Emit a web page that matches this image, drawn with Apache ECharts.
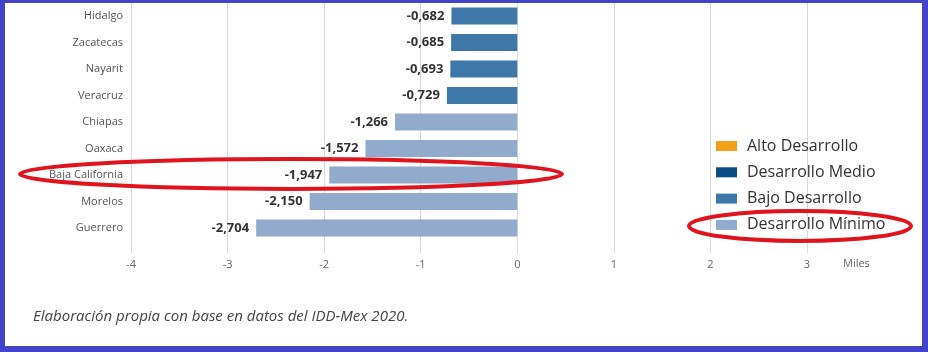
<!DOCTYPE html>
<html>
<head>
<meta charset="utf-8">
<script src="https://cdn.jsdelivr.net/npm/echarts@6/dist/echarts.min.js"></script>
<style>
  html, body { margin: 0; padding: 0; background: #fff; }
  #chart { position: absolute; left: 0; top: 0; width: 928px; height: 352px; }
  #frame { position: absolute; left: 0; top: 0; width: 928px; height: 352px; box-sizing: border-box;
           border-left: 5px solid #4343c9; border-top: 3px solid #4343c9; border-right: 6px solid #4343c9; border-bottom: 6px solid #4343c9;
           pointer-events: none; }
</style>
</head>
<body>
<div id="chart"></div>
<div id="frame"></div>
<script>
const categories = ['Hidalgo', 'Zacatecas', 'Nayarit', 'Veracruz', 'Chiapas', 'Oaxaca', 'Baja California', 'Morelos', 'Guerrero'];
const values = [-0.682, -0.685, -0.693, -0.729, -1.266, -1.572, -1.947, -2.150, -2.704];
const groups = ['Bajo Desarrollo', 'Bajo Desarrollo', 'Bajo Desarrollo', 'Bajo Desarrollo', 'Desarrollo Mínimo', 'Desarrollo Mínimo', 'Desarrollo Mínimo', 'Desarrollo Mínimo', 'Desarrollo Mínimo'];
const legendNames = ['Alto Desarrollo', 'Desarrollo Medio', 'Bajo Desarrollo', 'Desarrollo Mínimo'];
const legendColors = ['#f5a01a', '#0b4d82', '#3e78a8', '#92aacb'];
const xTicks = [-4, -3, -2, -1, 0, 1, 2, 3];
const axisUnit = 'Miles';
const sourceNote = 'Elaboración propia con base en datos del IDD-Mex 2020.';

const FONT = '"Open Sans", "Noto Sans", sans-serif';
const chart = echarts.init(document.getElementById('chart'));

const series = legendNames.map((name, i) => ({
  name: name,
  type: 'bar',
  xAxisIndex: 1,
  yAxisIndex: 1,
  stack: 'all',
  barWidth: 17,
  itemStyle: { color: legendColors[i] },
  label: {
    show: true,
    position: 'left',
    distance: 7,
    fontFamily: FONT,
    fontSize: 13,
    fontWeight: 'bold',
    color: '#333',
    formatter: p => p.value.toFixed(3).replace('.', ',')
  },
  data: values.map((v, k) => groups[k] === name ? v : '-')
}));

const option = {
  animation: false,
  backgroundColor: '#fff',
  textStyle: { fontFamily: FONT },
  grid: [
    { left: 131, right: 121, top: 0, bottom: 99 },
    { left: 131, right: 121, top: 2.75, height: 238.5 }
  ],
  xAxis: [
    {
      gridIndex: 0, type: 'value', min: xTicks[0], max: xTicks[xTicks.length - 1], interval: 1,
      name: axisUnit, nameLocation: 'end', nameGap: 36,
      nameTextStyle: { color: '#666', fontSize: 11, fontFamily: FONT, verticalAlign: 'top', padding: [5, 0, 0, 0] },
      axisLine: { show: false },
      axisTick: { show: false },
      splitLine: { show: true, lineStyle: { color: '#dadada', width: 1 } },
      axisLabel: { color: '#666', fontSize: 11, fontFamily: FONT, margin: 6 }
    },
    {
      gridIndex: 1, type: 'value', min: xTicks[0], max: xTicks[xTicks.length - 1], interval: 1,
      show: false
    }
  ],
  yAxis: [
    { gridIndex: 0, type: 'value', show: false },
    {
      gridIndex: 1, type: 'category', data: categories, inverse: true,
      axisLine: { show: false }, axisTick: { show: false },
      axisLabel: { color: '#555', fontSize: 11, fontFamily: FONT, margin: 8 }
    }
  ],
  legend: {
    data: legendNames,
    orient: 'vertical',
    left: 716,
    top: 137,
    padding: 0,
    itemWidth: 21,
    itemHeight: 10,
    itemGap: 8.3,
    icon: 'rect',
    textStyle: { color: '#333', fontSize: 16, fontFamily: FONT, lineHeight: 18, padding: [0, 0, 0, 5] }
  },
  series: series,
  graphic: [
    {
      type: 'text', left: 33, top: 309,
      style: { text: sourceNote, fill: '#444', font: 'italic 15px "Open Sans", sans-serif' }
    },
    {
      type: 'ellipse', z: 100,
      shape: { cx: 291, cy: 174, rx: 271, ry: 15 },
      style: { fill: null, stroke: '#e0141e', lineWidth: 4 }
    },
    {
      type: 'ellipse', z: 100,
      shape: { cx: 800, cy: 226, rx: 111, ry: 15 },
      style: { fill: null, stroke: '#e0141e', lineWidth: 4 }
    }
  ]
};
chart.setOption(option);
</script>
</body>
</html>
